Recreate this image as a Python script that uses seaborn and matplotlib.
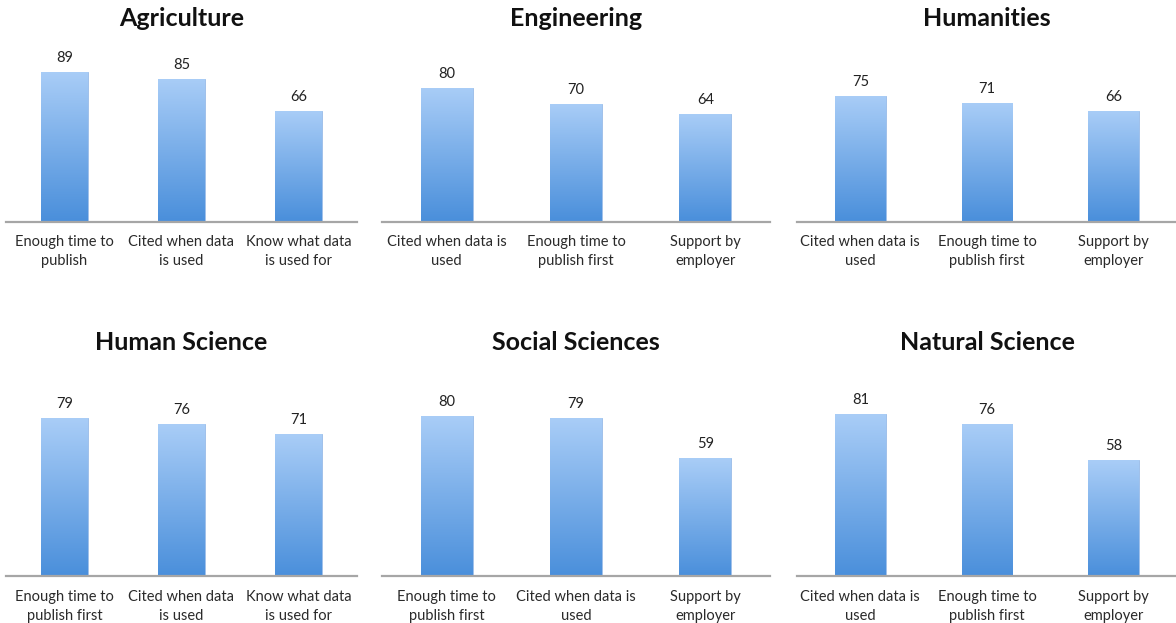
import numpy as np
import pandas as pd
import matplotlib
matplotlib.use("Agg")
import matplotlib.pyplot as plt
import seaborn as sns
from matplotlib.colors import LinearSegmentedColormap

sns.set_theme(style="white")
plt.rcParams['font.family'] = ['Lato', 'DejaVu Sans']

titles = ["Agriculture", "Engineering", "Humanities",
          "Human Science", "Social Sciences", "Natural Science"]

agri_labels = ["Enough time to\npublish", "Cited when data\nis used", "Know what data\nis used for"]
agri_values = [89, 85, 66]
eng_labels = ["Cited when data is\nused", "Enough time to\npublish first", "Support by\nemployer"]
eng_values = [80, 70, 64]
hum_labels = ["Cited when data is\nused", "Enough time to\npublish first", "Support by\nemployer"]
hum_values = [75, 71, 66]
humsci_labels = ["Enough time to\npublish first", "Cited when data\nis used", "Know what data\nis used for"]
humsci_values = [79, 76, 71]
soc_labels = ["Enough time to\npublish first", "Cited when data is\nused", "Support by\nemployer"]
soc_values = [80, 79, 59]
nat_labels = ["Cited when data is\nused", "Enough time to\npublish first", "Support by\nemployer"]
nat_values = [81, 76, 58]

all_labels = [agri_labels, eng_labels, hum_labels, humsci_labels, soc_labels, nat_labels]
all_values = [agri_values, eng_values, hum_values, humsci_values, soc_values, nat_values]

W, H = 1176, 623
fig = plt.figure(figsize=(W / 100, H / 100), dpi=100)

col_px = [(6, 357), (382, 770), (797, 1177)]
row_px = [(54, 221.5), (376, 576)]  # (top, baseline)
title_pad = [20, 19]

cmap = LinearSegmentedColormap.from_list("g", ["#4a8fdb", "#a9cdf7"])
grad = np.linspace(0, 1, 256).reshape(-1, 1)

for i, (t, labs, vals) in enumerate(zip(titles, all_labels, all_values)):
    r, c = divmod(i, 3)
    x0, x1 = col_px[c]
    top, base = row_px[r]
    ax = fig.add_axes([x0 / W, 1 - base / H, (x1 - x0) / W, (base - top) / H])
    df = pd.DataFrame({"cat": labs, "val": vals})
    sns.barplot(data=df, x="cat", y="val", ax=ax, width=0.4, color="#6aa6e8",
                edgecolor="none")
    ax.set_ylim(0, 100)
    ax.set_xlim(-0.5, 2.5)
    for p, v in zip(ax.patches, vals):
        bx, by = p.get_x(), p.get_y()
        bw, bh = p.get_width(), p.get_height()
        p.set_facecolor("none")
        p.set_edgecolor("#8fb6e6")
        p.set_linewidth(0.6)
        im = ax.imshow(grad, extent=[bx, bx + bw, by, by + bh], origin="lower",
                       cmap=cmap, aspect="auto", zorder=1)
        im.set_clip_path(p)
        ax.annotate(f"{v}", (bx + bw / 2, by + bh), xytext=(0, 5),
                    textcoords="offset points", ha="center", va="bottom",
                    fontsize=10.5, color="#222222")
    ax.set_xlim(-0.5, 2.5)
    ax.set_ylim(0, 100)
    ax.set_xlabel("")
    ax.set_ylabel("")
    ax.set_yticks([])
    for s in ["top", "right", "left"]:
        ax.spines[s].set_visible(False)
    ax.spines["bottom"].set_color("#a6a6a6")
    ax.spines["bottom"].set_linewidth(1.6)
    ax.tick_params(axis="x", length=0, pad=10, labelsize=10.5, colors="#2a2a2a")
    for lab in ax.get_xticklabels():
        lab.set_linespacing(1.42)
    ax.set_title(t, fontsize=18, fontweight="bold", color="#111111",
                 pad=title_pad[r])

fig.savefig("out.png", dpi=100)
